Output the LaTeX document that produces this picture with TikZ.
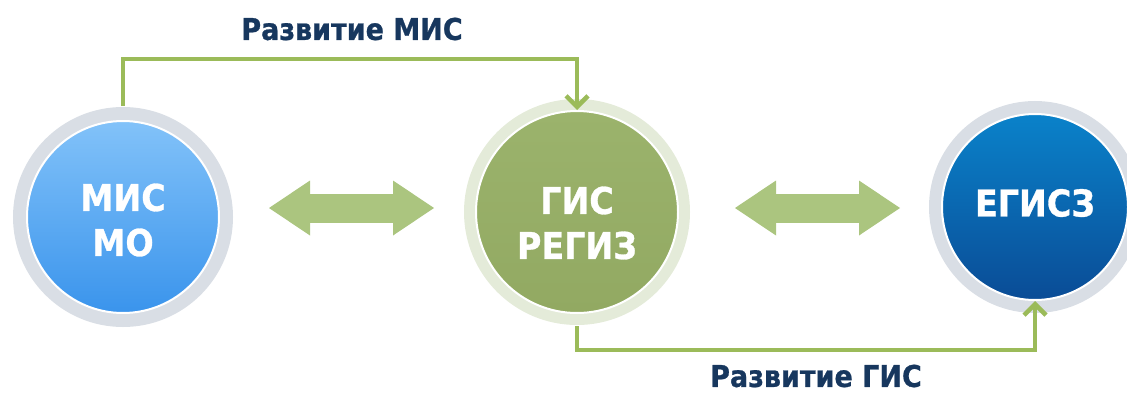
\documentclass[tikz,border=0pt]{standalone}
\usepackage{fontspec}
\setmainfont{DejaVu Sans}[FakeStretch=0.9, BoldFeatures={FakeBold=0.8}]
\usepackage{tikz}
\usetikzlibrary{arrows.meta, positioning}
\definecolor{devgreen}{HTML}{9BBB59}
\definecolor{swapgreen}{HTML}{ABC57F}
\definecolor{labelnavy}{HTML}{17375E}
\definecolor{ringgrey}{HTML}{D9DEE5}
\definecolor{ringgreen}{HTML}{E4EBD9}
\definecolor{misblue}{HTML}{82C2F9}
\definecolor{misbluedark}{HTML}{3A94EC}
\definecolor{gisgreen}{HTML}{9BB36C}
\definecolor{gisgreendark}{HTML}{92A962}
\definecolor{egiszblue}{HTML}{0A82CA}
\definecolor{egiszbluedark}{HTML}{0A4C96}
\tikzstyle{devline} = [devgreen, line width=4.5pt, -{Straight Barb[length=11pt,width=22pt]}]
\tikzstyle{dblarrow} = [swapgreen, line width=29pt, {Triangle[length=41pt,width=55pt,line width=0pt]}-{Triangle[length=41pt,width=55pt,line width=0pt]}]
\tikzset{
  ball/.style={circle, inner sep=0pt, draw=white, line width=2pt, shading angle=45},
  balltext/.style={text=white, font=\bfseries\fontsize{37}{45}\selectfont, align=center},
  devlabel/.style={text=labelnavy, inner sep=0pt, font=\bfseries\fontsize{30}{36}\selectfont}
}

\begin{document}
\begin{tikzpicture}[x=1pt, y=-1pt]
  \useasboundingbox (0,0) rectangle (1127,394);

  % Systems
  \node[ball, minimum size=192pt, preaction={draw=ringgrey, line width=28pt},
        top color=misblue, bottom color=misbluedark,
        label={[balltext, yshift=-3pt]center:МИС\\МО}] (mismo) at (123,217) {};
  \node[ball, minimum size=202pt, preaction={draw=ringgreen, line width=24pt},
        top color=gisgreen, bottom color=gisgreendark,
        label={[balltext, yshift=-11pt]center:ГИС\\РЕГИЗ}] (gis) at (577,212) {};
  \node[ball, minimum size=186pt, preaction={draw=ringgrey, line width=26pt},
        top color=egiszblue, bottom color=egiszbluedark, shading angle=0,
        label={[balltext, yshift=4pt]center:ЕГИСЗ}] (egisz) at (1035,207) {};

  % Exchange arrows
  \draw[dblarrow] ([xshift=49pt,yshift=9pt]mismo.east) -- ([xshift=-41pt,yshift=4pt]gis.west);
  \draw[dblarrow] ([xshift=56pt,yshift=4pt]gis.east) -- ([xshift=-41pt,yshift=-1pt]egisz.west);

  % Development of MIS
  \coordinate (topbend) at (0,59);
  \draw[devline] ([yshift=14pt]mismo.north) |- (gis.north |- topbend) -- (gis.north);
  \node[devlabel] (mislabel) at (352,29) {Развитие МИС};

  % Development of GIS
  \coordinate (botbend) at (0,350);
  \draw[devline] ([yshift=-12pt]gis.south) |- (egisz.south |- botbend) -- (egisz.south);
  \node[devlabel] (gislabel) at (816,376) {Развитие ГИС};
\end{tikzpicture}
\end{document}
